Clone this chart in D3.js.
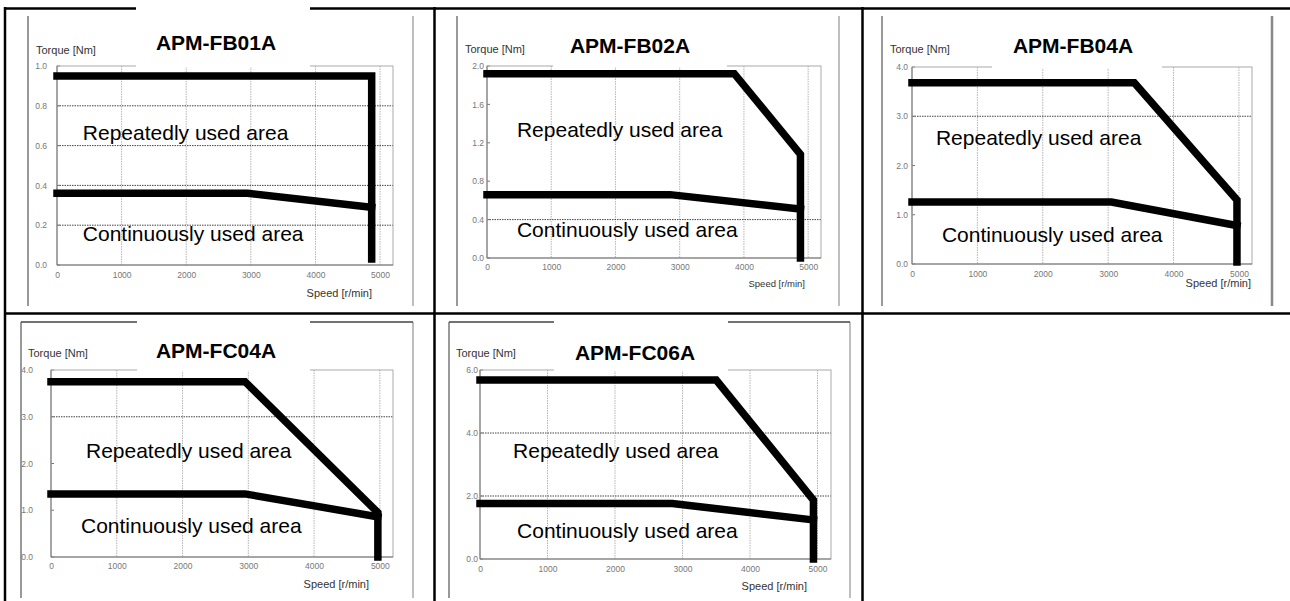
<!DOCTYPE html>
<html>
<head>
<meta charset="utf-8">
<script src="https://cdn.jsdelivr.net/npm/d3@7"></script>
<style>
  body { margin: 0; background: #fff; }
  svg { display: block; }
  text { font-family: Arial, "Liberation Sans", sans-serif; }
</style>
</head>
<body>
<div id="chart"></div>
<script>
/** chart values **/
var motorNames = ["APM-FB01A", "APM-FB02A", "APM-FB04A", "APM-FC04A", "APM-FC06A"];
var speedTicks = [0, 1000, 2000, 3000, 4000, 5000];
var speedMax = 5200;
var torqueMax = [1.0, 2.0, 4.0, 4.0, 6.0];
var torqueTicks = [
    [0, 0.2, 0.4, 0.6, 0.8, 1.0],
    [0, 0.4, 0.8, 1.2, 1.6, 2.0],
    [0, 1, 2, 3, 4],
    [0, 1, 2, 3, 4],
    [0, 2, 4, 6]
];
var dottedGrid = [[0.2, 0.4, 0.6, 0.8], [0.4], [3], [3], [2, 4]];

// [speed r/min, torque Nm]
var repeatedCurves = [
    [[0, 0.95], [4870, 0.95], [4870, 0.03]],
    [[0, 1.92], [3850, 1.92], [4880, 1.08], [4880, 0]],
    [[0, 3.68], [3400, 3.68], [4970, 1.3], [4970, 0.04]],
    [[0, 3.75], [2950, 3.75], [4970, 0.95], [4970, 0]],
    [[0, 5.68], [3500, 5.68], [4940, 1.87], [4940, 0]]
];
var continuousCurves = [
    [[0, 0.36], [2950, 0.36], [4870, 0.29]],
    [[0, 0.66], [2850, 0.66], [4880, 0.51]],
    [[0, 1.26], [3050, 1.26], [4970, 0.78]],
    [[0, 1.35], [2950, 1.35], [4970, 0.86]],
    [[0, 1.76], [2850, 1.76], [4940, 1.24]]
];
var repeatedLabel = "Repeatedly used area";
var continuousLabel = "Continuously used area";
var repeatedLabelAt = [[400, 0.63], [466, 1.26], [366, 2.42], [532, 2.12], [490, 3.2]];
var continuousLabelAt = [[400, 0.12], [466, 0.22], [457, 0.45], [456, 0.51], [549, 0.67]];

/** page layout (pixels) **/
var layout = [
    {plot: [57, 66, 393, 265], frame: [28, 16, 413, 306], frameTop: false, box: [136, 5, 310, 67],
     title: [216, 50], torque: [36, 54], gap: 10, xlab: 16, speed: [372, 297], speedSize: 11},
    {plot: [487, 66, 821, 258], frame: [457, 16, 839, 306], frameTop: false, box: [553, 12, 727, 67],
     title: [630, 53], torque: [465, 53], gap: 3, xlab: 15, speed: [805, 287], speedSize: 9.5},
    {plot: [912, 67, 1252, 264], frame: [882, 16, 1272, 306], frameTop: false, box: [992, 12, 1162, 68],
     title: [1073, 53], torque: [890, 53], gap: 4, xlab: 16, speed: [1251, 287], speedSize: 11},
    {plot: [51, 370, 393, 557], frame: [21, 322, 413, 598], frameTop: true, box: [137, 318, 310, 371],
     title: [216, 358], torque: [28, 357], gap: 18, xlab: 15, speed: [369, 588], speedSize: 11},
    {plot: [480, 370, 831, 559], frame: [449, 322, 850, 598], frameTop: true, box: [554, 318, 728, 371],
     title: [635, 360], torque: [456, 357], gap: 2, xlab: 16, speed: [807, 590], speedSize: 11}
];

var width = 1290, height = 601;

var svg = d3.select("#chart").append("svg")
    .attr("width", width)
    .attr("height", height);

svg.append("rect").attr("width", width).attr("height", height).attr("fill", "#fff");

/** table borders **/
var table = svg.append("g").attr("stroke", "#000").attr("stroke-width", 2.5);
table.append("line").attr("x1", 4).attr("x2", width).attr("y1", 8.5).attr("y2", 8.5);
table.append("line").attr("x1", 4).attr("x2", width).attr("y1", 313.5).attr("y2", 313.5);
[5, 434.5, 862.5].forEach(function(cx) {
    table.append("line").attr("x1", cx).attr("x2", cx).attr("y1", 7).attr("y2", height);
});

var line = d3.line();

layout.forEach(function(L, i) {
    var g = svg.append("g").attr("class", "panel");
    var x = d3.scaleLinear().domain([0, speedMax]).range([L.plot[0], L.plot[2]]);
    var y = d3.scaleLinear().domain([0, torqueMax[i]]).range([L.plot[3], L.plot[1]]);
    line.x(function(d) { return x(d[0]); }).y(function(d) { return y(d[1]); });

    // picture frame
    g.append("line").attr("x1", L.frame[0]).attr("x2", L.frame[0])
        .attr("y1", L.frame[1]).attr("y2", L.frame[3])
        .attr("stroke", "#999").attr("stroke-width", 2);
    g.append("line").attr("x1", L.frame[2]).attr("x2", L.frame[2])
        .attr("y1", L.frame[1]).attr("y2", L.frame[3])
        .attr("stroke", i == 2 ? "#888" : "#aaa").attr("stroke-width", i == 2 ? 2.5 : 1.5);
    if (L.frameTop) {
        g.append("line").attr("x1", L.frame[0]).attr("x2", L.frame[2])
            .attr("y1", L.frame[1]).attr("y2", L.frame[1])
            .attr("stroke", "#444").attr("stroke-width", 1.5);
    }

    // vertical grid
    g.selectAll(".vgrid").data(speedTicks.slice(1)).enter().append("line")
        .attr("class", "vgrid")
        .attr("x1", function(d) { return x(d); }).attr("x2", function(d) { return x(d); })
        .attr("y1", y.range()[1]).attr("y2", y.range()[0])
        .attr("stroke", "#b5b5b5").attr("stroke-dasharray", "1.5,1");

    // horizontal dotted grid
    g.selectAll(".hgrid").data(dottedGrid[i]).enter().append("line")
        .attr("class", "hgrid")
        .attr("x1", x.range()[0]).attr("x2", x.range()[1])
        .attr("y1", function(d) { return y(d); }).attr("y2", function(d) { return y(d); })
        .attr("stroke", "#444").attr("stroke-dasharray", "1.5,1");

    // small inside ticks
    g.selectAll(".ytick").data(torqueTicks[i]).enter().append("line")
        .attr("x1", x.range()[0]).attr("x2", x.range()[0] + 3)
        .attr("y1", function(d) { return y(d); }).attr("y2", function(d) { return y(d); })
        .attr("stroke", "#777");

    // plot box
    g.append("rect")
        .attr("x", x.range()[0]).attr("y", y.range()[1])
        .attr("width", x.range()[1] - x.range()[0]).attr("height", y.range()[0] - y.range()[1])
        .attr("fill", "none").attr("stroke", "#aaa");
    g.append("path")
        .attr("d", "M" + x.range()[0] + "," + y.range()[1] + "V" + y.range()[0] + "H" + x.range()[1])
        .attr("fill", "none").attr("stroke", "#777");

    // axes labels
    var yAxis = g.append("g")
        .attr("transform", "translate(" + x.range()[0] + ",0)")
        .call(d3.axisLeft(y).tickValues(torqueTicks[i]).tickFormat(d3.format(".1f"))
            .tickSize(0).tickPadding(L.gap));
    var xAxis = g.append("g")
        .attr("transform", "translate(0," + y.range()[0] + ")")
        .call(d3.axisBottom(x).tickValues(speedTicks).tickSize(0).tickPadding(L.xlab - 9)
            .tickFormat(d3.format("d")));
    [yAxis, xAxis].forEach(function(a) {
        a.select(".domain").remove();
        a.style("color", "#777")
            .attr("font-family", "Arial, 'Liberation Sans', sans-serif")
            .attr("font-size", 8.5);
    });

    g.append("text")
        .attr("x", L.torque[0]).attr("y", L.torque[1])
        .attr("font-size", 11).attr("fill", "#333")
        .text("Torque [Nm]");
    g.append("text")
        .attr("x", L.speed[0]).attr("y", L.speed[1])
        .attr("text-anchor", "end")
        .attr("font-size", L.speedSize).attr("fill", "#333")
        .text("Speed [r/min]");

    // torque-speed curves
    g.selectAll(".curve").data([repeatedCurves[i], continuousCurves[i]]).enter().append("path")
        .attr("class", "curve")
        .attr("d", line)
        .attr("fill", "none")
        .attr("stroke", "#000")
        .attr("stroke-width", 7.5)
        .attr("stroke-linecap", "square")
        .attr("stroke-linejoin", "miter");

    // area labels
    g.append("text")
        .attr("x", x(repeatedLabelAt[i][0])).attr("y", y(repeatedLabelAt[i][1]))
        .attr("font-size", 21).attr("fill", "#000")
        .text(repeatedLabel);
    g.append("text")
        .attr("x", x(continuousLabelAt[i][0])).attr("y", y(continuousLabelAt[i][1]))
        .attr("font-size", 21).attr("fill", "#000")
        .text(continuousLabel);

    // title patch
    g.append("rect")
        .attr("x", L.box[0]).attr("y", L.box[1])
        .attr("width", L.box[2] - L.box[0]).attr("height", L.box[3] - L.box[1])
        .attr("fill", "#fff");
    g.append("text")
        .attr("x", L.title[0]).attr("y", L.title[1])
        .attr("text-anchor", "middle")
        .attr("font-size", 21).attr("font-weight", "bold").attr("fill", "#000")
        .text(motorNames[i]);
});
</script>
</body>
</html>
